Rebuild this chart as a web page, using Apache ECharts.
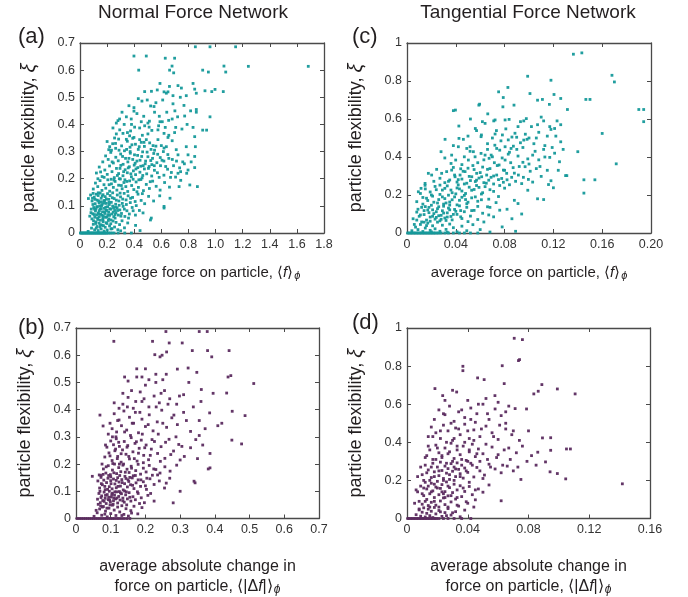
<!DOCTYPE html>
<html>
<head>
<meta charset="utf-8">
<script src="https://cdn.jsdelivr.net/npm/echarts@6/dist/echarts.min.js"></script>
<style>
  html, body { margin: 0; padding: 0; background: #fff; }
  #chart { width: 688px; height: 597px; }
</style>
</head>
<body>
<div id="chart"></div>
<script>
// ---- data: [average force, particle flexibility] per particle ----

// (a) normal force network, <f>
const normalPts = [
  [0.003,0],[0.011,0],[0.019,0],[0.026,0],[0.034,0],[0.042,0],[0.049,0],[0.057,0],[0.064,0],[0.072,0],[0.079,0],[0.087,0],[0.094,0],[0.102,0],[0.109,0],[0.117,0],[0.124,0],[0.132,0],[0.139,0],[0.147,0],[0.154,0],[0.162,0],[0.169,0],[0.177,0],[0.184,0],[0.192,0],[0.199,0],[0.21,0],[0.223,0],[0.236,0],[0.252,0],[0.281,0],[0.33,0],[0.379,0],[0.443,0.009],
  [0.06,0.006],[0.085,0.018],[0.098,0.032],[0.108,0.012],[0.118,0.041],[0.126,0.024],[0.134,0.009],[0.141,0.036],[0.149,0.047],[0.156,0.015],[0.163,0.029],[0.171,0.042],[0.178,0.007],[0.186,0.021],[0.193,0.038],[0.201,0.011],[0.209,0.046],[0.218,0.026],[0.227,0.034],[0.236,0.016],[0.244,0.044],[0.255,0.022],[0.266,0.039],[0.279,0.012],[0.292,0.031],[0.31,0.045],[0.328,0.019],[0.352,0.037],[0.1,0.045],[0.132,0.05],[0.169,0.054],[0.213,0.052],[0.259,0.055],[0.3,0.008],[0.41,0.028],[0.526,0.055],
  [0.072,0.062],[0.083,0.088],[0.094,0.071],[0.101,0.094],[0.109,0.058],[0.114,0.081],[0.122,0.067],[0.128,0.097],[0.135,0.074],[0.142,0.06],[0.148,0.089],[0.153,0.069],[0.159,0.1],[0.166,0.078],[0.172,0.063],[0.179,0.091],[0.185,0.072],[0.191,0.084],[0.197,0.059],[0.204,0.097],[0.211,0.076],[0.218,0.065],[0.226,0.088],[0.233,0.07],[0.241,0.099],[0.249,0.06],[0.256,0.083],[0.265,0.074],[0.274,0.093],[0.283,0.066],[0.294,0.085],[0.306,0.072],[0.318,0.098],[0.331,0.061],[0.346,0.082],[0.364,0.07],[0.385,0.094],[0.409,0.066],[0.438,0.083],[0.465,0.074],[0.52,0.048],[0.62,0.092],[0.118,0.088],[0.162,0.065],[0.2,0.083],[0.245,0.077],[0.145,0.1],[0.19,0.095],
  [0.062,0.127],[0.078,0.14],[0.089,0.118],[0.097,0.146],[0.105,0.132],[0.112,0.108],[0.12,0.143],[0.127,0.121],[0.134,0.138],[0.141,0.112],[0.149,0.147],[0.156,0.128],[0.163,0.105],[0.17,0.141],[0.178,0.119],[0.186,0.134],[0.194,0.109],[0.203,0.145],[0.212,0.124],[0.222,0.138],[0.231,0.113],[0.241,0.148],[0.252,0.127],[0.263,0.106],[0.275,0.14],[0.287,0.118],[0.299,0.133],[0.312,0.109],[0.326,0.146],[0.34,0.122],[0.355,0.137],[0.371,0.112],[0.388,0.131],[0.407,0.116],[0.428,0.143],[0.451,0.12],[0.477,0.108],[0.506,0.135],[0.543,0.118],[0.588,0.137],[0.62,0.098],[0.664,0.128],[0.135,0.148],[0.158,0.115],[0.216,0.105],[0.296,0.147],[0.46,0.145],
  [0.098,0.162],[0.114,0.184],[0.131,0.171],[0.148,0.193],[0.162,0.157],[0.177,0.178],[0.19,0.165],[0.205,0.196],[0.219,0.154],[0.232,0.181],[0.246,0.168],[0.259,0.19],[0.272,0.158],[0.285,0.176],[0.298,0.199],[0.311,0.163],[0.324,0.186],[0.338,0.171],[0.352,0.153],[0.366,0.192],[0.381,0.175],[0.397,0.16],[0.414,0.188],[0.431,0.168],[0.449,0.197],[0.468,0.156],[0.489,0.179],[0.512,0.164],[0.536,0.191],[0.562,0.172],[0.591,0.158],[0.624,0.186],[0.66,0.169],[0.731,0.171],[0.81,0.177],[0.866,0.171],[0.743,0.194],[0.23,0.198],[0.345,0.19],[0.42,0.152],
  [0.121,0.221],[0.142,0.243],[0.163,0.208],[0.183,0.232],[0.201,0.216],[0.218,0.247],[0.236,0.226],[0.253,0.204],[0.269,0.238],[0.285,0.219],[0.301,0.249],[0.317,0.211],[0.333,0.233],[0.349,0.222],[0.364,0.244],[0.379,0.207],[0.394,0.229],[0.41,0.215],[0.426,0.241],[0.442,0.224],[0.458,0.203],[0.475,0.236],[0.492,0.218],[0.51,0.245],[0.529,0.21],[0.549,0.231],[0.571,0.222],[0.594,0.248],[0.619,0.213],[0.646,0.235],[0.674,0.223],[0.705,0.206],[0.723,0.22],[0.742,0.226],[0.787,0.22],[0.797,0.232],[0.846,0.241],[0.29,0.2],[0.4,0.25],[0.466,0.248],
  [0.168,0.262],[0.189,0.284],[0.208,0.271],[0.227,0.297],[0.246,0.258],[0.264,0.279],[0.282,0.266],[0.3,0.291],[0.318,0.253],[0.336,0.275],[0.353,0.262],[0.371,0.294],[0.389,0.271],[0.407,0.257],[0.425,0.286],[0.443,0.268],[0.462,0.299],[0.481,0.255],[0.501,0.281],[0.522,0.267],[0.544,0.293],[0.567,0.259],[0.592,0.278],[0.619,0.265],[0.648,0.289],[0.681,0.271],[0.723,0.288],[0.797,0.288],[0.846,0.282],[0.758,0.262],[0.37,0.3],[0.53,0.252],
  [0.2,0.337],[0.212,0.307],[0.219,0.318],[0.241,0.329],[0.263,0.312],[0.285,0.346],[0.307,0.321],[0.328,0.303],[0.349,0.338],[0.369,0.316],[0.389,0.349],[0.409,0.327],[0.43,0.308],[0.44,0.344],[0.452,0.334],[0.475,0.319],[0.489,0.344],[0.514,0.332],[0.539,0.322],[0.575,0.344],[0.6,0.322],[0.62,0.313],[0.637,0.318],[0.71,0.307],[0.784,0.318],[0.851,0.318],[0.68,0.34],[0.55,0.305],
  [0.243,0.387],[0.268,0.365],[0.293,0.38],[0.317,0.367],[0.342,0.345],[0.366,0.358],[0.373,0.376],[0.398,0.352],[0.403,0.39],[0.44,0.387],[0.477,0.395],[0.501,0.365],[0.53,0.378],[0.575,0.38],[0.58,0.395],[0.62,0.367],[0.629,0.389],[0.649,0.352],[0.698,0.37],[0.706,0.389],[0.752,0.383],[0.834,0.389],[0.846,0.355],[0.905,0.379],[0.934,0.379],[0.46,0.36],
  [0.268,0.405],[0.28,0.414],[0.342,0.428],[0.378,0.42],[0.398,0.449],[0.452,0.41],[0.501,0.405],[0.59,0.41],[0.585,0.43],[0.654,0.415],[0.68,0.42],[0.72,0.428],[0.772,0.431],[0.816,0.45],[0.858,0.445],[0.959,0.428],[0.42,0.44],[0.55,0.445],[0.31,0.445],
  [0.361,0.469],[0.398,0.462],[0.457,0.486],[0.496,0.49],[0.521,0.468],[0.546,0.466],[0.686,0.476],[0.767,0.47],[0.858,0.455],[0.61,0.49],[0.43,0.495],
  [0.477,0.521],[0.527,0.522],[0.59,0.551],[0.62,0.52],[0.637,0.515],[0.649,0.52],[0.686,0.506],[0.723,0.543],[0.748,0.534],[0.784,0.506],[0.834,0.551],[0.846,0.53],[0.858,0.515],[0.922,0.524],[0.972,0.521],[0.996,0.529],[1.057,0.521],[0.57,0.527],
  [0.398,0.652],[0.489,0.652],[0.629,0.644],[0.698,0.644],[0.433,0.6],[0.679,0.615],[0.661,0.6],[0.691,0.59],[0.905,0.6],[0.947,0.593],[1.062,0.615],[1.075,0.593],[1.242,0.614],[1.684,0.614],[0.851,0.686],[0.959,0.686],[1.148,0.686],
  [0.088,0.052],[0.095,0.105],[0.104,0.068],[0.111,0.124],[0.116,0.035],[0.123,0.096],[0.129,0.055],[0.137,0.118],[0.143,0.082],[0.151,0.03],[0.157,0.09],[0.164,0.136],[0.168,0.048],[0.175,0.11],[0.181,0.077],[0.188,0.058],[0.195,0.125],[0.199,0.035],[0.206,0.066],[0.214,0.113],[0.22,0.089],[0.229,0.048],[0.238,0.13],[0.247,0.092],[0.258,0.068],[0.268,0.121],[0.277,0.083],[0.289,0.102],[0.302,0.062],[0.315,0.125],[0.327,0.088],[0.342,0.105],[0.358,0.055],[0.373,0.128],[0.392,0.082],[0.415,0.101],[0.081,0.075],[0.092,0.128],[0.107,0.088],[0.139,0.07],[0.173,0.027],[0.183,0.12],[0.228,0.015],[0.262,0.095],[0.12,0.018],[0.147,0.022],
  [0.215,0.178],[0.237,0.262],[0.251,0.195],[0.262,0.33],[0.276,0.212],[0.288,0.305],[0.295,0.238],[0.305,0.175],[0.314,0.282],[0.322,0.226],[0.331,0.196],[0.344,0.308],[0.356,0.24],[0.361,0.275],[0.375,0.218],[0.383,0.325],[0.392,0.198],[0.402,0.288],[0.413,0.236],[0.42,0.265],[0.434,0.196],[0.437,0.318],[0.448,0.246],[0.455,0.282],[0.463,0.212],[0.472,0.334],[0.484,0.265],[0.495,0.298],[0.505,0.238],[0.518,0.189],[0.524,0.308],[0.535,0.275],[0.548,0.248],[0.56,0.32],[0.573,0.29],[0.584,0.205],[0.605,0.268],[0.615,0.3],[0.632,0.245],[0.655,0.275],[0.668,0.205],[0.69,0.248],[0.712,0.265],[0.735,0.24],[0.77,0.255],[0.82,0.262],[0.655,0.36],[0.512,0.412],[0.47,0.43],[0.56,0.48],[0.64,0.445],[0.51,0.39],[0.38,0.4],[0.35,0.37],[0.326,0.4],[0.292,0.42],[0.255,0.35],[0.232,0.305],[0.178,0.205],[0.152,0.225],[0.132,0.2],[0.607,0.41],[0.7,0.45],[0.79,0.4],[0.74,0.5],[0.66,0.54]
];

// (b) normal force network, <|Δf|>
const normalDeltaPts = [
  [0.003,0],[0.009,0],[0.015,0],[0.021,0],[0.027,0],[0.033,0],[0.039,0],[0.045,0],[0.051,0],[0.057,0],[0.063,0],[0.069,0],[0.075,0],[0.081,0],[0.087,0],[0.093,0],[0.099,0],[0.105,0],[0.111,0],[0.118,0],[0.124,0],[0.131,0],[0.138,0],[0.146,0],[0.155,0],
  [0.052,0.008],[0.061,0.021],[0.068,0.035],[0.074,0.012],[0.079,0.044],[0.085,0.027],[0.09,0.006],[0.095,0.038],[0.1,0.018],[0.105,0.049],[0.11,0.031],[0.115,0.011],[0.12,0.042],[0.126,0.024],[0.132,0.047],[0.138,0.015],[0.144,0.036],[0.151,0.009],[0.158,0.029],[0.167,0.045],[0.178,0.017],[0.19,0.04],[0.098,0.05],[0.071,0.046],[0.083,0.016],
  [0.062,0.071],[0.066,0.092],[0.07,0.058],[0.074,0.083],[0.077,0.066],[0.081,0.097],[0.084,0.074],[0.087,0.055],[0.09,0.088],[0.093,0.069],[0.096,0.1],[0.099,0.061],[0.102,0.079],[0.105,0.093],[0.108,0.065],[0.111,0.086],[0.114,0.072],[0.117,0.098],[0.12,0.057],[0.123,0.081],[0.127,0.068],[0.131,0.091],[0.135,0.075],[0.139,0.06],[0.143,0.087],[0.148,0.072],[0.153,0.095],[0.158,0.064],[0.164,0.08],[0.171,0.069],[0.179,0.092],[0.188,0.076],[0.197,0.058],[0.207,0.085],[0.225,0.064],[0.28,0.0575],[0.094,0.078],[0.109,0.075],[0.125,0.099],[0.072,0.077],[0.14,0.101],
  [0.063,0.138],[0.068,0.112],[0.072,0.151],[0.076,0.124],[0.08,0.141],[0.084,0.106],[0.088,0.132],[0.092,0.148],[0.096,0.117],[0.1,0.139],[0.104,0.109],[0.108,0.145],[0.112,0.127],[0.116,0.113],[0.12,0.15],[0.124,0.134],[0.128,0.119],[0.132,0.143],[0.136,0.105],[0.14,0.128],[0.144,0.147],[0.148,0.116],[0.152,0.136],[0.157,0.124],[0.162,0.149],[0.167,0.11],[0.173,0.131],[0.179,0.142],[0.186,0.118],[0.194,0.135],[0.203,0.107],[0.213,0.146],[0.225,0.125],[0.24,0.138],[0.255,0.112],[0.27,0.148],[0.343,0.131],[0.34,0.137],[0.047,0.155],[0.1,0.153],[0.155,0.151],[0.3,0.1],
  [0.072,0.158],[0.079,0.182],[0.086,0.167],[0.093,0.194],[0.099,0.161],[0.105,0.178],[0.111,0.2],[0.117,0.165],[0.123,0.187],[0.129,0.172],[0.135,0.196],[0.141,0.155],[0.147,0.181],[0.153,0.169],[0.159,0.192],[0.165,0.157],[0.172,0.176],[0.179,0.199],[0.186,0.163],[0.194,0.185],[0.202,0.171],[0.211,0.195],[0.22,0.159],[0.23,0.18],[0.242,0.167],[0.256,0.19],[0.271,0.174],[0.29,0.196],[0.381,0.182],[0.386,0.186],[0.125,0.2],
  [0.083,0.226],[0.089,0.262],[0.095,0.241],[0.1,0.285],[0.104,0.213],[0.108,0.271],[0.112,0.249],[0.116,0.293],[0.12,0.228],[0.125,0.265],[0.13,0.207],[0.134,0.252],[0.139,0.283],[0.144,0.236],[0.149,0.268],[0.154,0.219],[0.159,0.297],[0.164,0.245],[0.17,0.276],[0.176,0.211],[0.182,0.258],[0.188,0.288],[0.195,0.232],[0.202,0.27],[0.209,0.216],[0.217,0.255],[0.226,0.283],[0.235,0.239],[0.245,0.264],[0.256,0.221],[0.268,0.291],[0.281,0.248],[0.296,0.272],[0.312,0.228],[0.33,0.26],[0.355,0.305],[0.386,0.239],[0.449,0.288],[0.477,0.274],[0.365,0.27],[0.115,0.3],[0.3,0.215],[0.35,0.22],
  [0.093,0.31],[0.098,0.35],[0.104,0.33],[0.11,0.385],[0.117,0.318],[0.124,0.362],[0.131,0.341],[0.138,0.395],[0.146,0.325],[0.154,0.372],[0.162,0.35],[0.171,0.39],[0.18,0.315],[0.19,0.365],[0.2,0.338],[0.211,0.381],[0.222,0.322],[0.234,0.355],[0.247,0.398],[0.261,0.335],[0.276,0.37],[0.292,0.345],[0.31,0.39],[0.33,0.32],[0.385,0.388],[0.4085,0.341],[0.45,0.394],[0.487,0.378],[0.069,0.38],[0.078,0.34],[0.355,0.36],
  [0.11,0.425],[0.124,0.405],[0.135,0.46],[0.148,0.41],[0.16,0.47],[0.172,0.43],[0.185,0.465],[0.196,0.44],[0.21,0.41],[0.225,0.45],[0.24,0.425],[0.255,0.47],[0.27,0.44],[0.29,0.42],[0.31,0.455],[0.361,0.474],[0.434,0.461],[0.512,0.496],[0.2,0.49],[0.245,0.46],[0.15,0.445],
  [0.14,0.52],[0.15,0.505],[0.175,0.55],[0.19,0.52],[0.21,0.51],[0.23,0.53],[0.25,0.51],[0.292,0.549],[0.323,0.553],[0.348,0.537],[0.438,0.52],[0.446,0.525],[0.26,0.53],
  [0.109,0.651],[0.2205,0.651],[0.259,0.687],[0.355,0.687],[0.378,0.687],[0.2685,0.645],[0.306,0.645],[0.227,0.602],[0.242,0.594],[0.248,0.6],[0.261,0.612],[0.335,0.617],[0.379,0.617],[0.391,0.594],[0.441,0.617],
  [0.058,0.03],[0.064,0.052],[0.069,0.1],[0.073,0.128],[0.076,0.042],[0.078,0.162],[0.081,0.063],[0.083,0.118],[0.085,0.085],[0.087,0.19],[0.089,0.038],[0.091,0.107],[0.094,0.158],[0.097,0.068],[0.098,0.23],[0.101,0.128],[0.103,0.088],[0.106,0.202],[0.107,0.052],[0.109,0.168],[0.112,0.098],[0.114,0.255],[0.116,0.14],[0.118,0.075],[0.119,0.22],[0.121,0.118],[0.123,0.28],[0.126,0.158],[0.128,0.094],[0.13,0.238],[0.133,0.132],[0.135,0.065],[0.137,0.2],[0.14,0.318],[0.142,0.17],[0.145,0.098],[0.147,0.262],[0.15,0.142],[0.152,0.228],[0.155,0.078],[0.157,0.305],[0.16,0.185],[0.163,0.122],[0.166,0.35],[0.168,0.22],[0.171,0.158],[0.174,0.282],[0.177,0.098],[0.18,0.24],[0.184,0.39],[0.187,0.142],[0.191,0.31],[0.194,0.205],[0.198,0.26],[0.204,0.148],[0.208,0.345],[0.214,0.232],[0.219,0.29],[0.224,0.182],[0.231,0.41],[0.237,0.31],[0.243,0.21],[0.25,0.35],[0.258,0.28],[0.265,0.42],[0.273,0.235],[0.282,0.38],[0.288,0.3],[0.298,0.45],[0.305,0.265],[0.318,0.36],[0.325,0.5],[0.338,0.41],[0.345,0.29],[0.36,0.43],[0.372,0.33],[0.395,0.46],[0.42,0.35],[0.19,0.43],[0.165,0.405],[0.2,0.55],[0.23,0.5],[0.175,0.52],[0.135,0.42],[0.12,0.36],[0.105,0.3],[0.085,0.27],[0.075,0.2],[0.067,0.16],[0.132,0.011],[0.146,0.05],[0.16,0.02],[0.183,0.055],[0.2,0.12],[0.215,0.092],[0.235,0.16],[0.26,0.13]
];

// (c) tangential force network, <f>
const tangentialPts = [
  [0.0005,0],[0.0018,0],[0.003,0],[0.0042,0],[0.0055,0],[0.0068,0],[0.008,0],[0.0093,0],[0.0105,0],[0.0118,0],[0.013,0],[0.0143,0],[0.0155,0],[0.0168,0],[0.018,0],[0.0193,0],[0.0205,0],[0.0218,0],[0.023,0],[0.0245,0],[0.026,0],[0.028,0],[0.031,0],[0.034,0],[0.038,0],[0.043,0],[0.047,0],[0.052,0],[0.058,0],
  [0.004,0.012],[0.007,0.031],[0.009,0.018],[0.011,0.045],[0.013,0.008],[0.015,0.026],[0.017,0.052],[0.019,0.014],[0.021,0.038],[0.023,0.022],[0.025,0.057],[0.027,0.009],[0.029,0.041],[0.032,0.019],[0.035,0.047],[0.038,0.028],[0.041,0.006],[0.045,0.036],[0.049,0.012],[0.054,0.044],[0.06,0.018],[0.068,0.005],[0.078,0.032],[0.089,0.009],[0.063,0.058],[0.02,0.006],[0.033,0.004],[0.014,0.057],
  [0.005,0.075],[0.008,0.11],[0.01,0.088],[0.012,0.135],[0.014,0.097],[0.016,0.068],[0.017,0.121],[0.019,0.084],[0.02,0.146],[0.022,0.102],[0.023,0.073],[0.025,0.128],[0.026,0.091],[0.027,0.064],[0.029,0.117],[0.03,0.141],[0.031,0.079],[0.033,0.106],[0.034,0.131],[0.036,0.087],[0.037,0.069],[0.039,0.124],[0.041,0.098],[0.043,0.143],[0.045,0.076],[0.047,0.112],[0.049,0.135],[0.052,0.089],[0.055,0.119],[0.058,0.071],[0.062,0.104],[0.066,0.138],[0.071,0.085],[0.076,0.12],[0.086,0.075],[0.094,0.1],[0.021,0.122],[0.028,0.093],[0.035,0.147],[0.018,0.107],[0.024,0.082],[0.032,0.066],[0.04,0.114],[0.015,0.139],
  [0.008,0.165],[0.011,0.208],[0.013,0.187],[0.015,0.232],[0.017,0.171],[0.019,0.216],[0.021,0.194],[0.023,0.245],[0.025,0.158],[0.027,0.203],[0.029,0.226],[0.031,0.181],[0.033,0.248],[0.035,0.163],[0.037,0.212],[0.039,0.19],[0.041,0.237],[0.043,0.172],[0.045,0.221],[0.047,0.198],[0.049,0.154],[0.051,0.241],[0.053,0.185],[0.055,0.229],[0.058,0.167],[0.061,0.205],[0.064,0.244],[0.067,0.178],[0.071,0.219],[0.075,0.192],[0.08,0.236],[0.088,0.172],[0.099,0.225],[0.107,0.18],[0.112,0.176],[0.12,0.238],[0.034,0.199],[0.042,0.253],[0.026,0.176],[0.057,0.25],[0.048,0.176],[0.03,0.152],[0.0093,0.217],[0.0115,0.235],[0.0148,0.251],
  [0.0148,0.261],[0.0175,0.314],[0.0202,0.305],[0.0243,0.335],[0.0284,0.314],[0.0325,0.323],[0.0366,0.331],[0.0394,0.296],[0.0435,0.305],[0.0476,0.323],[0.0531,0.296],[0.0571,0.314],[0.0612,0.296],[0.0653,0.305],[0.0689,0.293],[0.0735,0.305],[0.0776,0.287],[0.0817,0.314],[0.0858,0.293],[0.0913,0.305],[0.0954,0.293],[0.0995,0.282],[0.0968,0.349],[0.022,0.272],[0.027,0.288],[0.031,0.265],[0.035,0.279],[0.041,0.268],[0.045,0.284],[0.049,0.262],[0.052,0.276],[0.056,0.271],[0.059,0.289],[0.063,0.265],[0.067,0.278],[0.071,0.258],[0.075,0.281],[0.079,0.267],[0.084,0.254],[0.089,0.272],[0.094,0.26],[0.103,0.268],[0.11,0.298],[0.118,0.275],[0.13,0.302],[0.038,0.345],[0.044,0.338],[0.05,0.341],[0.055,0.334],[0.062,0.347],[0.068,0.339],[0.079,0.331],[0.087,0.344],[0.106,0.339],[0.115,0.33],
  [0.0279,0.428],[0.0361,0.366],[0.0366,0.41],[0.0399,0.384],[0.0421,0.454],[0.047,0.401],[0.049,0.445],[0.0503,0.384],[0.0517,0.43],[0.0544,0.428],[0.0558,0.401],[0.0607,0.419],[0.064,0.41],[0.0673,0.393],[0.07,0.401],[0.0716,0.37],[0.0735,0.445],[0.0755,0.358],[0.076,0.436],[0.0804,0.384],[0.0853,0.445],[0.1,0.363],[0.103,0.41],[0.108,0.385],[0.112,0.44],[0.117,0.398],[0.121,0.42],[0.125,0.375],[0.031,0.395],[0.058,0.37],[0.066,0.44],[0.091,0.405],[0.095,0.372],[0.083,0.415],[0.045,0.36],
  [0.0312,0.493],[0.0426,0.498],[0.0462,0.493],[0.0517,0.454],[0.0804,0.454],[0.0872,0.457],[0.057,0.539],[0.061,0.516],[0.0607,0.507],[0.0733,0.539],[0.0722,0.521],[0.0782,0.516],[0.0885,0.525],[0.0899,0.504],[0.0957,0.489],[0.0984,0.493],[0.1,0.5],[0.104,0.47],[0.108,0.53],[0.113,0.46],[0.118,0.545],[0.122,0.51],[0.126,0.48],[0.16,0.524],[0.066,0.47],[0.05,0.51],[0.038,0.46],[0.093,0.475],[0.083,0.49],[0.07,0.5],
  [0.0425,0.563],[0.0618,0.586],[0.064,0.577],[0.0662,0.627],[0.0711,0.59],[0.0722,0.595],[0.0804,0.595],[0.0837,0.598],[0.093,0.586],[0.0957,0.59],[0.0978,0.602],[0.107,0.57],[0.112,0.59],[0.117,0.56],[0.121,0.55],[0.126,0.57],[0.0397,0.647],[0.038,0.644],[0.0589,0.673],[0.0595,0.678],[0.0786,0.664],[0.0877,0.673],[0.1167,0.677],[0.1315,0.65],[0.19,0.65],[0.194,0.65],[0.194,0.586],[0.052,0.6],[0.056,0.55],
  [0.1364,0.941],[0.1433,0.948],[0.168,0.83],[0.17,0.795],[0.0989,0.825],[0.0827,0.766],[0.0751,0.743],[0.0789,0.713],[0.1008,0.734],[0.111,0.703],[0.107,0.699],[0.1205,0.729],[0.118,0.804],[0.126,0.708],[0.1466,0.703],[0.15,0.703],[0.14,0.428],[0.1715,0.364],[0.145,0.28],[0.154,0.28],[0.145,0.21],[0.131,0.302],
  [0.006,0.045],[0.008,0.068],[0.009,0.125],[0.011,0.095],[0.012,0.058],[0.013,0.152],[0.014,0.118],[0.016,0.039],[0.016,0.183],[0.018,0.135],[0.019,0.062],[0.02,0.2],[0.021,0.088],[0.022,0.162],[0.024,0.112],[0.024,0.228],[0.026,0.138],[0.027,0.252],[0.028,0.072],[0.029,0.19],[0.03,0.105],[0.031,0.235],[0.032,0.158],[0.033,0.084],[0.034,0.272],[0.035,0.122],[0.036,0.226],[0.037,0.175],[0.038,0.098],[0.039,0.305],[0.04,0.206],[0.041,0.148],[0.042,0.281],[0.043,0.232],[0.044,0.118],[0.045,0.188],[0.046,0.325],[0.047,0.258],[0.048,0.208],[0.05,0.162],[0.051,0.298],[0.053,0.225],[0.054,0.355],[0.056,0.19],[0.057,0.278],[0.059,0.24],[0.06,0.318],[0.062,0.212],[0.063,0.385],[0.065,0.262],[0.066,0.335],[0.068,0.228],[0.069,0.41],[0.071,0.3],[0.072,0.462],[0.074,0.355],[0.076,0.25],[0.077,0.485],[0.078,0.395],[0.08,0.33],[0.081,0.548],[0.082,0.28],[0.084,0.425],[0.085,0.37],[0.086,0.505],[0.088,0.315],[0.09,0.44],[0.091,0.56],[0.092,0.35],[0.095,0.45],[0.097,0.52],[0.099,0.39],[0.101,0.325],[0.102,0.56],[0.105,0.43],[0.106,0.5],[0.109,0.35],[0.11,0.61],[0.113,0.4],[0.115,0.51],[0.119,0.45],[0.123,0.59],[0.128,0.44],[0.116,0.255],[0.124,0.33],[0.05,0.06],[0.044,0.085],[0.058,0.14],[0.067,0.095],[0.073,0.16],[0.082,0.125],[0.091,0.155],[0.053,0.118],[0.061,0.175],[0.068,0.135]
];

// (d) tangential force network, <|Δf|>
const tangentialDeltaPts = [
  [0.0005,0],[0.0015,0],[0.0025,0],[0.0035,0],[0.0045,0],[0.0055,0],[0.0065,0],[0.0075,0],[0.0085,0],[0.0095,0],[0.0105,0],[0.0115,0],[0.0125,0],[0.0135,0],[0.0145,0],[0.0155,0],[0.0165,0],[0.0175,0],[0.0185,0],[0.0195,0],[0.021,0],[0.024,0],[0.027,0],[0.031,0],[0.036,0],[0.042,0],
  [0.006,0.02],[0.008,0.045],[0.009,0.012],[0.01,0.033],[0.011,0.056],[0.012,0.008],[0.013,0.027],[0.014,0.049],[0.015,0.015],[0.016,0.038],[0.017,0.005],[0.018,0.058],[0.019,0.024],[0.021,0.042],[0.023,0.011],[0.025,0.031],[0.027,0.052],[0.029,0.018],[0.032,0.036],[0.035,0.009],[0.038,0.044],
  [0.007,0.14],[0.008,0.09],[0.009,0.17],[0.01,0.075],[0.011,0.12],[0.012,0.19],[0.013,0.1],[0.013,0.155],[0.014,0.068],[0.015,0.13],[0.016,0.185],[0.016,0.085],[0.017,0.145],[0.018,0.11],[0.019,0.165],[0.019,0.07],[0.02,0.195],[0.021,0.125],[0.022,0.092],[0.022,0.158],[0.023,0.178],[0.024,0.108],[0.025,0.141],[0.025,0.073],[0.026,0.192],[0.027,0.119],[0.028,0.162],[0.029,0.087],[0.03,0.136],[0.031,0.18],[0.032,0.102],[0.033,0.15],[0.034,0.065],[0.035,0.172],[0.036,0.115],[0.038,0.142],[0.039,0.088],[0.041,0.168],[0.043,0.125],[0.045,0.098],[0.047,0.155],[0.05,0.138],[0.054,0.176],[0.062,0.093],[0.015,0.2],[0.027,0.06],[0.018,0.18],[0.024,0.13],[0.011,0.16],
  [0.01,0.23],[0.012,0.28],[0.014,0.255],[0.016,0.215],[0.017,0.29],[0.018,0.245],[0.02,0.27],[0.021,0.225],[0.022,0.296],[0.023,0.252],[0.024,0.21],[0.025,0.275],[0.026,0.238],[0.027,0.262],[0.028,0.205],[0.029,0.288],[0.03,0.248],[0.031,0.27],[0.032,0.22],[0.033,0.292],[0.034,0.258],[0.035,0.235],[0.036,0.28],[0.037,0.212],[0.038,0.265],[0.04,0.242],[0.042,0.29],[0.044,0.218],[0.046,0.268],[0.048,0.25],[0.051,0.228],[0.054,0.285],[0.058,0.26],[0.062,0.24],[0.066,0.275],[0.07,0.25],[0.075,0.205],[0.0942,0.245],[0.099,0.236],[0.1045,0.208],[0.1418,0.182],
  [0.013,0.33],[0.015,0.36],[0.017,0.31],[0.019,0.385],[0.021,0.345],[0.023,0.32],[0.025,0.37],[0.027,0.34],[0.029,0.395],[0.031,0.315],[0.033,0.36],[0.035,0.335],[0.037,0.38],[0.039,0.305],[0.041,0.35],[0.043,0.39],[0.045,0.325],[0.047,0.365],[0.05,0.34],[0.053,0.31],[0.056,0.375],[0.06,0.335],[0.064,0.36],[0.068,0.31],[0.072,0.345],[0.0861,0.348],[0.0912,0.297],[0.0946,0.358],[0.105,0.365],[0.1076,0.365],[0.079,0.3],[0.04,0.3],
  [0.014,0.43],[0.016,0.48],[0.019,0.45],[0.022,0.42],[0.024,0.49],[0.027,0.46],[0.03,0.41],[0.032,0.475],[0.035,0.44],[0.038,0.495],[0.041,0.42],[0.044,0.465],[0.048,0.43],[0.052,0.485],[0.056,0.45],[0.06,0.415],[0.065,0.47],[0.069,0.44],[0.074,0.41],[0.0946,0.424],[0.0892,0.423],[0.08,0.46],
  [0.018,0.52],[0.021,0.57],[0.025,0.545],[0.028,0.59],[0.031,0.51],[0.034,0.56],[0.038,0.53],[0.042,0.58],[0.046,0.55],[0.05,0.6],[0.054,0.52],[0.058,0.575],[0.062,0.54],[0.067,0.59],[0.0712,0.577],[0.0787,0.575],[0.065,0.5],[0.045,0.505],
  [0.0184,0.682],[0.0235,0.645],[0.03,0.673],[0.0327,0.664],[0.0579,0.645],[0.0835,0.654],[0.0864,0.668],[0.0888,0.703],[0.099,0.68],[0.1107,0.654],[0.064,0.708],[0.0465,0.738],[0.0508,0.729],[0.0368,0.776],[0.0368,0.799],[0.0627,0.802],[0.04,0.62],[0.052,0.63],[0.025,0.62],[0.06,0.61],
  [0.0706,0.946],[0.076,0.939],[0.0734,0.829],[0.0741,0.834],
  [0.005,0.08],[0.006,0.15],[0.007,0.22],[0.008,0.05],[0.009,0.27],[0.01,0.13],[0.011,0.2],[0.012,0.32],[0.012,0.09],[0.013,0.24],[0.014,0.17],[0.014,0.38],[0.015,0.06],[0.016,0.27],[0.016,0.14],[0.017,0.43],[0.018,0.22],[0.018,0.09],[0.019,0.31],[0.02,0.16],[0.02,0.37],[0.021,0.06],[0.021,0.25],[0.022,0.46],[0.023,0.14],[0.023,0.33],[0.024,0.2],[0.024,0.55],[0.025,0.11],[0.026,0.29],[0.026,0.4],[0.027,0.17],[0.028,0.35],[0.028,0.23],[0.029,0.12],[0.029,0.5],[0.03,0.3],[0.031,0.2],[0.031,0.42],[0.032,0.26],[0.033,0.11],[0.033,0.38],[0.034,0.47],[0.035,0.22],[0.036,0.31],[0.036,0.57],[0.037,0.16],[0.038,0.4],[0.039,0.25],[0.04,0.46],[0.041,0.19],[0.041,0.36],[0.042,0.52],[0.043,0.28],[0.044,0.41],[0.045,0.15],[0.046,0.34],[0.047,0.6],[0.048,0.3],[0.049,0.47],[0.05,0.21],[0.052,0.39],[0.053,0.55],[0.055,0.27],[0.057,0.43],[0.059,0.32],[0.061,0.49],[0.063,0.28],[0.065,0.56],[0.067,0.37],[0.07,0.46],[0.073,0.27],[0.076,0.38],[0.082,0.33],[0.085,0.28],[0.04,0.08],[0.044,0.06],[0.03,0.03],[0.026,0.015],[0.022,0.035],[0.033,0.07]
];

// ---- tick labels ----
const xTicksNormal = ['0','0.2','0.4','0.6','0.8','1.0','1.2','1.4','1.6','1.8'];
const xTicksNormalDelta = ['0','0.1','0.2','0.3','0.4','0.5','0.6','0.7'];
const xTicksTangential = ['0','0.04','0.08','0.12','0.16','0.20'];
const xTicksTangentialDelta = ['0','0.04','0.08','0.12','0.16'];
const yTicksNormal = ['0','0.1','0.2','0.3','0.4','0.5','0.6','0.7'];
const yTicksTangential = ['0','0.2','0.4','0.6','0.8','1'];

const FONT = 'Liberation Sans, Arial, Helvetica, sans-serif';
const TEXT = '#231f20';
const TEAL = '#15999a';
const PURPLE = '#5b2b5f';

function tickFormatter(labels, step) {
  return v => {
    const i = Math.round(v / step);
    return labels[i] !== undefined ? labels[i] : '';
  };
}

const richName = (size) => ({
  t:   { fontFamily: FONT, fontSize: size, color: TEXT, lineHeight: size + 4, verticalAlign: 'middle' },
  it:  { fontFamily: FONT, fontSize: size, color: TEXT, fontStyle: 'italic', lineHeight: size + 4, verticalAlign: 'middle' },
  big: { fontFamily: FONT, fontSize: size + 2, color: TEXT, fontStyle: 'italic', lineHeight: size + 4, verticalAlign: 'middle' },
  sub: { fontFamily: FONT, fontSize: size - 4, color: TEXT, fontStyle: 'italic', lineHeight: size + 4, verticalAlign: 'middle', padding: [7, 0, 0, 1] }
});

const panels = [
  { grid: { left: 80, top: 43, width: 244, height: 190 }, pts: normalPts, color: TEAL,
    xMax: 1.8, xStep: 0.2, xLabels: xTicksNormal, yMax: 0.7, yStep: 0.1, yLabels: yTicksNormal,
    xName: '{t|average force on particle, ⟨}{it|f}{t|⟩}{sub|ϕ}', xSize: 15, xGap: 30 },
  { grid: { left: 407, top: 43, width: 244, height: 190 }, pts: tangentialPts, color: TEAL,
    xMax: 0.2, xStep: 0.04, xLabels: xTicksTangential, yMax: 1, yStep: 0.2, yLabels: yTicksTangential,
    xName: '{t|average force on particle, ⟨}{it|f}{t|⟩}{sub|ϕ}', xSize: 15, xGap: 30 },
  { grid: { left: 76, top: 328, width: 243, height: 191 }, pts: normalDeltaPts, color: PURPLE,
    xMax: 0.7, xStep: 0.1, xLabels: xTicksNormalDelta, yMax: 0.7, yStep: 0.1, yLabels: yTicksNormal,
    xName: '{t|average absolute change in}\n{t|force on particle, ⟨|Δ}{it|f}{t||⟩}{sub|ϕ}', xSize: 16, xGap: 38 },
  { grid: { left: 407, top: 328, width: 243, height: 191 }, pts: tangentialDeltaPts, color: PURPLE,
    xMax: 0.16, xStep: 0.04, xLabels: xTicksTangentialDelta, yMax: 1, yStep: 0.2, yLabels: yTicksTangential,
    xName: '{t|average absolute change in}\n{t|force on particle, ⟨|Δ}{it|f}{t||⟩}{sub|ϕ}', xSize: 16, xGap: 38 }
];

const frameLine = { show: true, onZero: false, lineStyle: { color: '#4a4a4a', width: 1.3 } };
const innerTick = { show: true, inside: true, length: 4, lineStyle: { color: '#4a4a4a', width: 1 } };
const tickLabel = { fontFamily: FONT, fontSize: 12.5, color: '#333', margin: 5 };

const grids = [], xAxes = [], yAxes = [], series = [];
panels.forEach((p, k) => {
  grids.push(Object.assign({ containLabel: false }, p.grid));
  const base = { type: 'value', gridIndex: k, min: 0, splitLine: { show: false }, axisLine: frameLine, axisTick: innerTick };
  // bottom and top x axes (top one only carries ticks)
  xAxes.push(Object.assign({}, base, {
    position: 'bottom', max: p.xMax, interval: p.xStep,
    axisLabel: Object.assign({ formatter: tickFormatter(p.xLabels, p.xStep) }, tickLabel),
    name: p.xName, nameLocation: 'middle', nameGap: p.xGap,
    nameTextStyle: { rich: richName(p.xSize), align: 'center' }
  }));
  xAxes.push(Object.assign({}, base, { position: 'top', max: p.xMax, interval: p.xStep, axisLabel: { show: false } }));
  // left and right y axes (right one only carries ticks)
  yAxes.push(Object.assign({}, base, {
    position: 'left', max: p.yMax, interval: p.yStep,
    axisLabel: Object.assign({ formatter: tickFormatter(p.yLabels, p.yStep) }, tickLabel),
    name: '{t|particle flexibility, }{big|ξ}', nameLocation: 'middle', nameGap: 40,
    nameTextStyle: { rich: richName(18) }
  }));
  yAxes.push(Object.assign({}, base, { position: 'right', max: p.yMax, interval: p.yStep, axisLabel: { show: false } }));
  series.push({
    type: 'scatter', xAxisIndex: 2 * k, yAxisIndex: 2 * k, data: p.pts,
    symbol: 'rect', symbolSize: 2.8, z: 5,
    itemStyle: { color: p.color, opacity: 0.95 },
    emphasis: { disabled: true }, silent: true
  });
});

const chart = echarts.init(document.getElementById('chart'), null, { renderer: 'canvas' });
chart.setOption({
  animation: false,
  backgroundColor: '#fff',
  grid: grids,
  xAxis: xAxes,
  yAxis: yAxes,
  series: series,
  graphic: [
    { type: 'text', x: 193, y: 13, style: { text: 'Normal Force Network', font: '19px ' + FONT, fill: TEXT, align: 'center', verticalAlign: 'middle' } },
    { type: 'text', x: 528, y: 13, style: { text: 'Tangential Force Network', font: '19px ' + FONT, fill: TEXT, align: 'center', verticalAlign: 'middle' } },
    { type: 'text', x: 18, y: 37, style: { text: '(a)', font: '22px ' + FONT, fill: TEXT, align: 'left', verticalAlign: 'middle' } },
    { type: 'text', x: 352, y: 37, style: { text: '(c)', font: '22px ' + FONT, fill: TEXT, align: 'left', verticalAlign: 'middle' } },
    { type: 'text', x: 18, y: 328, style: { text: '(b)', font: '22px ' + FONT, fill: TEXT, align: 'left', verticalAlign: 'middle' } },
    { type: 'text', x: 352, y: 323, style: { text: '(d)', font: '22px ' + FONT, fill: TEXT, align: 'left', verticalAlign: 'middle' } }
  ]
});
</script>
</body>
</html>
